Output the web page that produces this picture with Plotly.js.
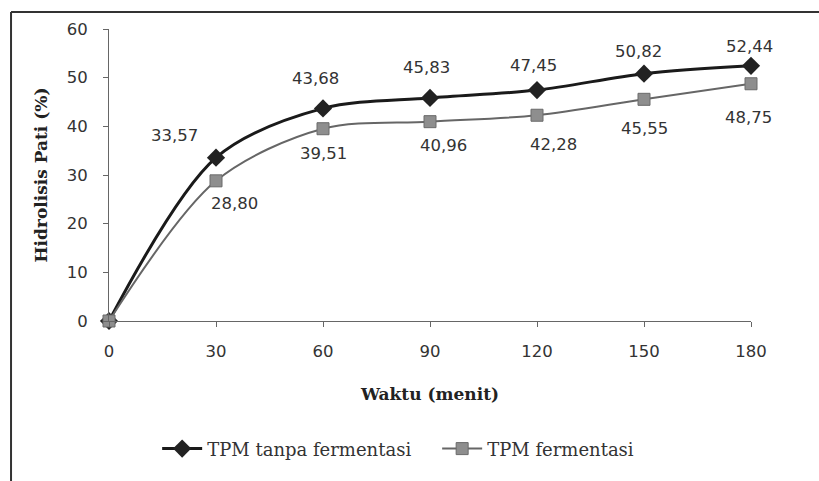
<!DOCTYPE html>
<html>
<head>
<meta charset="utf-8">
<script src="https://cdn.plot.ly/plotly-3.0.1.min.js"></script>
<style>html,body{margin:0;padding:0;background:#fff;}#chart{width:819px;height:481px;}</style>
</head>
<body>
<div id="chart"></div>
<script>
const waktu = [0, 30, 60, 90, 120, 150, 180];
const tanpaFermentasi = [0, 33.57, 43.68, 45.83, 47.45, 50.82, 52.44];
const fermentasi = [0, 28.80, 39.51, 40.96, 42.28, 45.55, 48.75];
const labelsTanpa = ["", "33,57", "43,68", "45,83", "47,45", "50,82", "52,44"];
const labelsFerm = ["", "28,80", "39,51", "40,96", "42,28", "45,55", "48,75"];
const seriesNames = ["TPM tanpa fermentasi", "TPM fermentasi"];

// label offsets in pixels (styling only)
const offTanpa = [[0,0], [-42,-22], [-8,-30], [-4,-30], [-4,-25], [-6,-22], [-2,-19]];
const offFerm = [[0,0], [18,23], [0,25], [13,24], [16,29], [0,29], [-3,34]];

const txtColor = "#333";
const tickFont = {family: "DejaVu Sans, Verdana, sans-serif", size: 16.5, color: txtColor};
const serif = "DejaVu Serif, Liberation Serif, serif";

const traces = [
  {
    x: waktu, y: tanpaFermentasi, name: seriesNames[0],
    mode: "lines+markers", type: "scatter",
    line: {color: "#1a1a1a", width: 3, shape: "spline", smoothing: 0.9},
    marker: {symbol: "diamond", size: 14, color: "#222"},
    cliponaxis: false
  },
  {
    x: waktu, y: fermentasi, name: seriesNames[1],
    mode: "lines+markers", type: "scatter",
    line: {color: "#666", width: 2, shape: "spline", smoothing: 0.9},
    marker: {symbol: "square", size: 12, color: "#8e8e8e", line: {color: "#6a6a6a", width: 1}},
    cliponaxis: false
  }
];

const annotations = [];
waktu.forEach((w, i) => {
  if (labelsTanpa[i]) annotations.push({x: w, y: tanpaFermentasi[i], text: labelsTanpa[i], showarrow: false,
    xshift: offTanpa[i][0], yshift: -offTanpa[i][1], font: tickFont});
  if (labelsFerm[i]) annotations.push({x: w, y: fermentasi[i], text: labelsFerm[i], showarrow: false,
    xshift: offFerm[i][0], yshift: -offFerm[i][1], font: tickFont});
});

const layout = {
  width: 819, height: 481,
  margin: {l: 109, r: 68, t: 29, b: 160},
  paper_bgcolor: "#fff", plot_bgcolor: "#fff",
  showlegend: true,
  annotations: annotations,
  legend: {
    orientation: "h", x: 0.075, xanchor: "left", y: -0.438, yanchor: "middle",
    font: {family: serif, size: 18, color: txtColor},
    itemwidth: 40,
    entrywidth: 225, entrywidthmode: "pixels",
    traceorder: "normal"
  },
  xaxis: {
    range: [0, 180], tickvals: waktu, ticktext: waktu.map(String),
    showgrid: false, zeroline: false, showline: true, linecolor: "#666", linewidth: 1,
    ticks: "outside", ticklen: 5, tickcolor: "#666", ticklabelstandoff: 10,
    tickfont: tickFont,
    title: {text: "<b>Waktu (menit)</b>", font: {family: serif, size: 17, color: "#222"}, standoff: 28}
  },
  yaxis: {
    range: [0, 60], dtick: 10,
    showgrid: false, zeroline: false, showline: true, linecolor: "#666", linewidth: 1,
    ticks: "outside", ticklen: 5, tickcolor: "#666", ticklabelstandoff: 12,
    tickfont: tickFont,
    title: {text: "<b>Hidrolisis Pati (%)</b>", font: {family: serif, size: 17, color: "#222"}, standoff: 14}
  },
  shapes: [
    {type: "line", xref: "paper", yref: "paper", x0: -0.1526, x1: 1.2, y0: 1.058, y1: 1.058, line: {color: "#333", width: 2}},
    {type: "line", xref: "paper", yref: "paper", x0: -0.1526, x1: -0.1526, y0: 1.058, y1: -0.6, line: {color: "#333", width: 2}}
  ]
};

Plotly.newPlot("chart", traces, layout, {displayModeBar: false, staticPlot: true});
</script>
</body>
</html>
